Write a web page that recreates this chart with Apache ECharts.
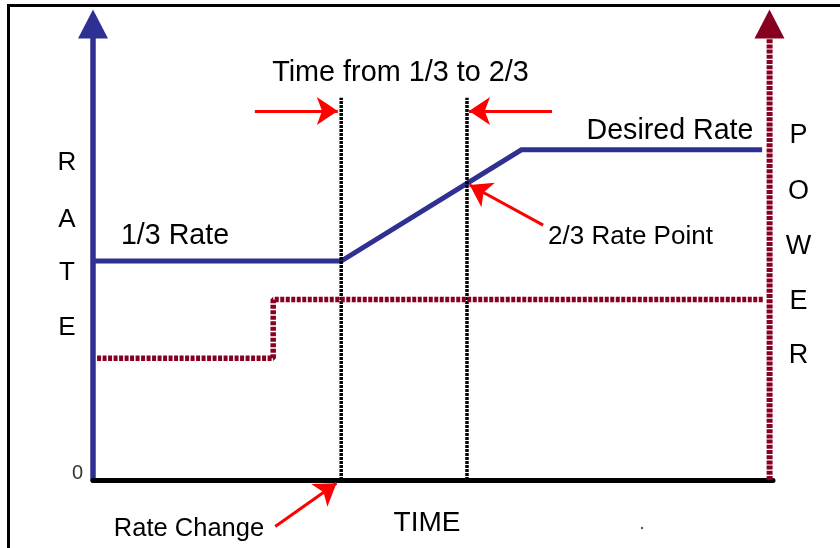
<!DOCTYPE html>
<html><head><meta charset="utf-8">
<script src="https://cdn.jsdelivr.net/npm/echarts@6/dist/echarts.min.js"></script>
<style>html,body{margin:0;padding:0;background:#fff}#c{width:840px;height:548px}</style>
</head><body><div id="c"></div>
<script>
// ---- data (time on 0..10 scale, rate/power on 0..10 scale) ----
const rateTime   = [0.03, 3.65, 6.30, 9.84];
const rateValue  = [4.80, 4.80, 7.24, 7.24];
const powerTime  = [0.06, 2.65, 2.65, 9.85];
const powerValue = [2.67, 2.67, 3.96, 3.96];
const powerAxisTime = [9.95, 9.95];
const powerAxisValue = [0, 10];
const markerTime = [3.65, 5.50];
const markerTop  = [8.38, 8.38];
const arrowFrom  = [[2.38, 8.09], [6.75, 8.09], [6.62, 5.59], [2.68, -1.02]];
const arrowTo    = [[3.60, 8.09], [5.53, 8.09], [5.54, 6.47], [3.58, -0.07]];
const yTickLabels = ['0'];
const rateLetters  = ['R', 'A', 'T', 'E'];
const powerLetters = ['P', 'O', 'W', 'E', 'R'];

const FONT = '"Liberation Sans", Arial, sans-serif';
const BLUE = '#2e3192', DARKRED = '#870020';
const zip = (xs, ys) => xs.map((x, i) => [x, ys[i]]);
const chart = echarts.init(document.getElementById('c'), null, {renderer: 'canvas'});

const txt = (text, x, y, size, color) => ({
  type: 'text', x: x, y: y, z: 100,
  style: {text: text, font: size + 'px ' + FONT, fill: color || '#000', align: 'center', verticalAlign: 'middle'}
});

const rateYs = [163, 219.5, 273, 328];
const powerYs = [136, 191.5, 247, 301.5, 355.5];

const graphics = [
  {type: 'line', shape: {x1: 8.5, y1: 4, x2: 8.5, y2: 548}, style: {stroke: '#000', lineWidth: 3}, z: 100},
  {type: 'line', shape: {x1: 7, y1: 5.5, x2: 840, y2: 5.5}, style: {stroke: '#000', lineWidth: 3}, z: 100},
  {type: 'circle', shape: {cx: 642, cy: 528, r: 1.2}, style: {fill: '#555'}, z: 100},
  txt('Time from 1/3 to 2/3', 400.5, 73, 28.8),
  txt('Desired Rate', 670, 131, 28.6),
  txt('1/3 Rate', 175, 236, 28.6),
  txt('2/3 Rate Point', 630.5, 236.5, 26),
  txt('TIME', 427, 523, 28),
  txt('Rate Change', 189, 529, 25.5)
];
rateLetters.forEach((l, i) => graphics.push(txt(l, 67, rateYs[i], 26)));
powerLetters.forEach((l, i) => graphics.push(txt(l, 798.5, powerYs[i], 27)));

const option = {
  animation: false,
  backgroundColor: '#fff',
  tooltip: {show: false},
  grid: {left: 93, right: 67, top: 24, bottom: 68, containLabel: false},
  xAxis: {
    type: 'value', min: 0, max: 10,
    axisLine: {show: true, onZero: false, lineStyle: {color: '#000', width: 5}},
    axisTick: {show: false}, axisLabel: {show: false}, splitLine: {show: false}
  },
  yAxis: [{
    type: 'value', min: 0, max: 10, interval: 10,
    axisLine: {show: true, onZero: false, symbol: ['none', 'triangle'], symbolSize: [30, 29],
      lineStyle: {color: BLUE, width: 5.5}},
    axisTick: {show: false}, splitLine: {show: false},
    axisLabel: {formatter: v => (v === 0 ? yTickLabels[0] : ''), margin: 10, color: '#333',
      fontSize: 20, fontFamily: FONT, verticalAlign: 'bottom', lineHeight: 14}
  }, {
    type: 'value', position: 'right', offset: -3.5, min: 0, max: 10,
    axisLine: {show: true, onZero: false, symbol: ['none', 'triangle'], symbolSize: [30, 29],
      lineStyle: {color: DARKRED, width: 0.01}},
    axisTick: {show: false}, axisLabel: {show: false}, splitLine: {show: false}
  }],
  series: [
    {type: 'line', name: 'Rate', data: zip(rateTime, rateValue), showSymbol: false, symbol: 'none', z: 2,
      lineStyle: {color: BLUE, width: 5, join: 'miter'}, silent: true},
    {type: 'line', name: 'Marker1', data: [[markerTime[0], 0], [markerTime[0], markerTop[0]]], symbol: 'none', z: 3,
      lineStyle: {color: '#000', width: 3.5, type: [3, 1]}, silent: true},
    {type: 'line', name: 'Marker2', data: [[markerTime[1], 0], [markerTime[1], markerTop[1]]], symbol: 'none', z: 3,
      lineStyle: {color: '#000', width: 3.5, type: [3, 1]}, silent: true},
    {type: 'line', name: 'Power', data: zip(powerTime, powerValue), symbol: 'none', z: 4,
      lineStyle: {color: DARKRED, width: 5.5, type: [4, 1.5], cap: 'butt'}, silent: true},
    {type: 'line', name: 'PowerAxis', data: zip(powerAxisTime, powerAxisValue), symbol: 'none', z: 1, clip: false,
      lineStyle: {color: DARKRED, width: 6, type: [4, 1.2], cap: 'butt'}, silent: true},
    {type: 'lines', coordinateSystem: 'cartesian2d', clip: false, z: 5, silent: true,
      symbol: ['none', 'arrow'], symbolSize: [9, 21],
      lineStyle: {color: '#ff0000', width: 3, opacity: 1, curveness: 0},
      data: arrowFrom.map((f, i) => ({coords: [f, arrowTo[i]]}))}
  ],
  graphic: graphics
};
chart.setOption(option);
</script>
</body></html>
